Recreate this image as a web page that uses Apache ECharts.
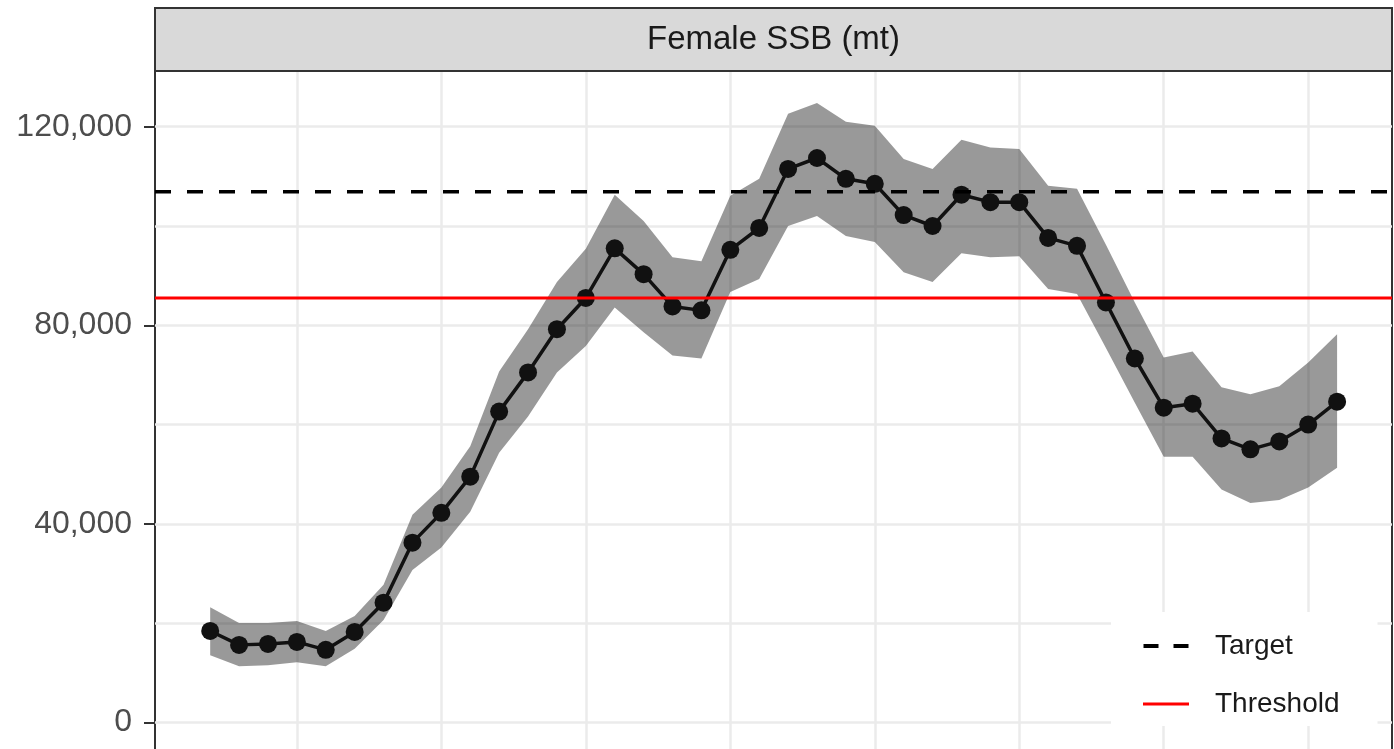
<!DOCTYPE html>
<html><head><meta charset="utf-8">
<script src="https://cdn.jsdelivr.net/npm/echarts@6/dist/echarts.min.js"></script>
<style>html,body{margin:0;padding:0;background:#fff}#c{width:1394px;height:749px}</style>
</head><body><div id="c"></div>
<script>
const years = [1982,1983,1984,1985,1986,1987,1988,1989,1990,1991,1992,1993,1994,1995,1996,1997,1998,1999,2000,2001,2002,2003,2004,2005,2006,2007,2008,2009,2010,2011,2012,2013,2014,2015,2016,2017,2018,2019,2020,2021];
const ssb = [18400,15600,15800,16200,14600,18200,24100,36200,42200,49500,62600,70500,79200,85500,95500,90300,83800,83000,95200,99600,111500,113700,109500,108500,102200,100000,106300,104800,104800,97600,96000,84600,73300,63400,64200,57200,55000,56600,60000,64600];
const ssbLower = [13500,11300,11500,12100,11300,14800,20600,30700,35200,42400,54300,61600,70500,75800,83600,78600,73900,73300,86700,89300,100000,102000,98000,96800,90700,88700,94500,93700,93900,87300,86300,75400,64400,53500,53500,46900,44200,44800,47300,51300];
const ssbUpper = [23200,20000,20000,20400,18400,21400,27700,41800,47300,55600,70700,79200,88700,95400,106300,101000,93700,92900,106100,109500,122600,124800,121000,120200,113500,111500,117400,115800,115500,108100,107500,96200,84600,73500,74700,67500,66100,67700,72500,78200];
const target = 106900;
const threshold = 85500;
const yTickValues = [0, 40000, 80000, 120000];
const yGridValues = [0, 20000, 40000, 60000, 80000, 100000, 120000];
const xGridValues = [1985, 1990, 1995, 2000, 2005, 2010, 2015, 2020];
const stripLabel = 'Female SSB (mt)';
const legendNames = ['Target', 'Threshold'];

const X_MIN = 1980.09, X_MAX = 2022.9, Y_MIN = -5380, Y_MAX = 131230;
const FONT = '"Liberation Sans", Arial, sans-serif';
const legendIcons = {
  Target: 'path://M0,0H15V4H0Z M30,0H45V4H30Z',
  Threshold: 'path://M0,0.5H46V3.5H0Z'
};

const chart = echarts.init(document.getElementById('c'), null, {renderer: 'canvas'});
const pair = arr => years.map((y, i) => [y, arr[i]]);
const borderLine = {show: true, lineStyle: {color: '#333', width: 2}};

chart.setOption({
  animation: false,
  backgroundColor: '#fff',
  grid: {left: 155, right: 2, top: 71, bottom: 0, show: false, containLabel: false},
  xAxis: {type: 'value', min: X_MIN, max: X_MAX, show: false},
  yAxis: [{
    type: 'value', min: Y_MIN, max: Y_MAX,
    splitLine: {show: false},
    axisLine: borderLine,
    axisTick: {show: true, customValues: yTickValues, length: 11, lineStyle: {color: '#333', width: 2}},
    axisLabel: {customValues: yTickValues, margin: 23, fontSize: 32, color: '#4d4d4d', fontFamily: FONT,
      formatter: v => Number(v).toLocaleString('en-US')}
  }, {
    type: 'value', min: Y_MIN, max: Y_MAX, position: 'right',
    splitLine: {show: false}, axisLine: borderLine, axisTick: {show: false}, axisLabel: {show: false}
  }],
  legend: {
    data: legendNames.map(n => ({name: n, icon: legendIcons[n]})), orient: 'vertical', left: 1111, top: 612,
    padding: [20, 38, 8, 32], itemWidth: 46, itemHeight: 4, itemGap: 30,
    backgroundColor: '#fff', selectedMode: false,
    textStyle: {fontFamily: FONT, fontSize: 28, color: '#1a1a1a', padding: [0, 0, 0, 21]}
  },
  graphic: [
    {type: 'rect', shape: {x: 155, y: 8, width: 1237, height: 63}, style: {fill: '#d9d9d9', stroke: '#333', lineWidth: 2}, z: 100},
    {type: 'text', x: 773.5, y: 40, style: {text: stripLabel, fill: '#1a1a1a', font: '33px "Liberation Sans", Arial, sans-serif', textAlign: 'center', textVerticalAlign: 'middle'}, z: 101}
  ],
  series: [
    {
      name: 'gridref', type: 'line', data: pair(ssb), symbol: 'none', silent: true,
      lineStyle: {opacity: 0}, z: 1,
      markLine: {
        silent: true, symbol: ['none', 'none'], z: 1, label: {show: false},
        lineStyle: {color: '#ebebeb', width: 2.5, type: 'solid'},
        emphasis: {disabled: true},
        data: [...yGridValues.map(v => ({yAxis: v})), ...xGridValues.map(v => ({xAxis: v}))]
      }
    },
    {
      name: 'band', type: 'custom', silent: true, z: 2,
      data: [[years[0], ssb[0]]],
      renderItem: (params, api) => {
        const pts = [];
        for (let i = 0; i < years.length; i++) pts.push(api.coord([years[i], ssbUpper[i]]));
        for (let i = years.length - 1; i >= 0; i--) pts.push(api.coord([years[i], ssbLower[i]]));
        return {type: 'polygon', shape: {points: pts}, style: {fill: 'rgba(0,0,0,0.4)'}};
      }
    },
    {
      name: 'SSB', type: 'line', data: pair(ssb), symbol: 'circle', symbolSize: 18,
      itemStyle: {color: '#111'}, lineStyle: {color: '#111', width: 3.5}, z: 3
    },
    {
      name: 'Target', type: 'line', data: [[X_MIN, target], [X_MAX, target]], symbol: 'none',
      lineStyle: {color: '#000', width: 3.5, type: [16, 16]}, itemStyle: {color: '#000'}, z: 4
    },
    {
      name: 'Threshold', type: 'line', data: [[X_MIN, threshold], [X_MAX, threshold]], symbol: 'none',
      lineStyle: {color: '#ff0000', width: 3}, itemStyle: {color: '#ff0000'}, z: 4
    }
  ]
});
</script></body></html>
